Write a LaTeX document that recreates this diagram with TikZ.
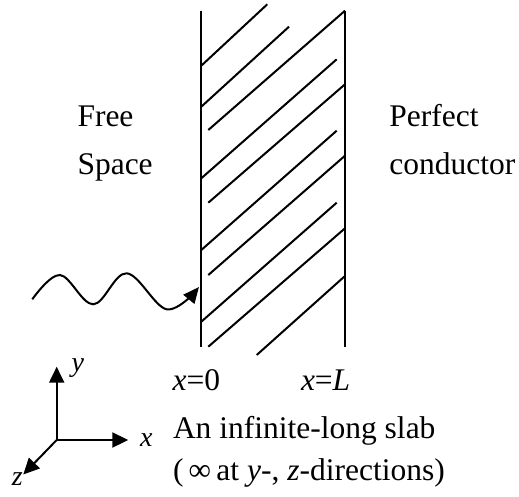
\documentclass[tikz,border=0pt]{standalone}
\usepackage{fontspec}
\setmainfont{Liberation Serif}
\usetikzlibrary{arrows.meta}

\begin{document}
\begin{tikzpicture}[x=1pt, y=-1pt, line width=2pt,
    txt/.style={anchor=base west, inner sep=0pt, font=\fontsize{31.5}{37}\selectfont},
    lbl/.style={anchor=base west, inner sep=0pt, font=\fontsize{28}{34}\selectfont\itshape},
    ax/.style={-{Triangle[length=16pt, width=15pt]}}]
  \useasboundingbox (0,0) rectangle (519,497);
  % slab walls at x=0 and x=L
  \coordinate (w0t) at (201.3, 10.7);
  \coordinate (w0b) at (201.3, 346.7);
  \coordinate (wLt) at (345.0, 10.7);
  \coordinate (wLb) at (345.0, 346.7);
  \draw (w0t) -- (w0b);
  \draw (wLt) -- (wLb);
  % hatching
  \draw (201.3, 65.7) -- (267.3, 4.3);
  \draw (201.3, 106.7) -- (289.0, 26.7);
  \draw (208.3, 130.0) -- (345.0, 10.7);
  \draw (201.3, 178.3) -- (336.7, 59.3);
  \draw (208.3, 202.7) -- (345.0, 84.3);
  \draw (201.3, 250.0) -- (336.7, 130.7);
  \draw (208.3, 275.0) -- (345.0, 155.7);
  \draw (201.3, 321.7) -- (336.7, 202.7);
  \draw (208.3, 346.7) -- (345.0, 228.3);
  \draw (256.7, 355.0) -- (345.0, 276.0);
  % incoming wave
  \draw[-{Triangle[length=16pt, width=14pt]}] plot[smooth, tension=0.6] coordinates
    {(32.3, 299.3) (60.0, 275.0) (93.3, 304.3) (126.7, 273.3) (166.7, 309.3) (199.0, 287.0)};
  % labels
  \node[txt] (free) at (76.5, 126.7) {Free};
  \node[txt] (space) at (76.5, 174.5) {Space};
  \node[txt] (perf) at (388.3, 126.7) {Perfect};
  \node[txt] (cond) at (388.3, 174.5) {conductor};
  \node[txt] (x0) at (171.7, 390.0) {\textit{x}=0};
  \node[txt] (xL) at (300.0, 390.0) {\textit{x}=\textit{L}};
  \node[txt] (slab) at (172.0, 438.3) {An infinite-long slab};
  \node[txt] (dirs) at (172.0, 480.0) {(\,∞\,at \textit{y}-, \textit{z}-directions)};
  % coordinate axes
  \coordinate (O) at (56.7, 440.0);
  \coordinate (ytip) at (56.7, 366.7);
  \coordinate (xtip) at (128.3, 440.0);
  \coordinate (ztip) at (23.3, 474.5);
  \draw[ax] (O) -- (ytip);
  \draw[ax] (O) -- (xtip);
  \draw[ax] (O) -- (ztip);
  \node[lbl] (ylbl) at (70.5, 371.0) {y};
  \node[lbl] (xlbl) at (139.0, 446.7) {x};
  \node[lbl] (zlbl) at (11.0, 485.0) {z};
\end{tikzpicture}
\end{document}
